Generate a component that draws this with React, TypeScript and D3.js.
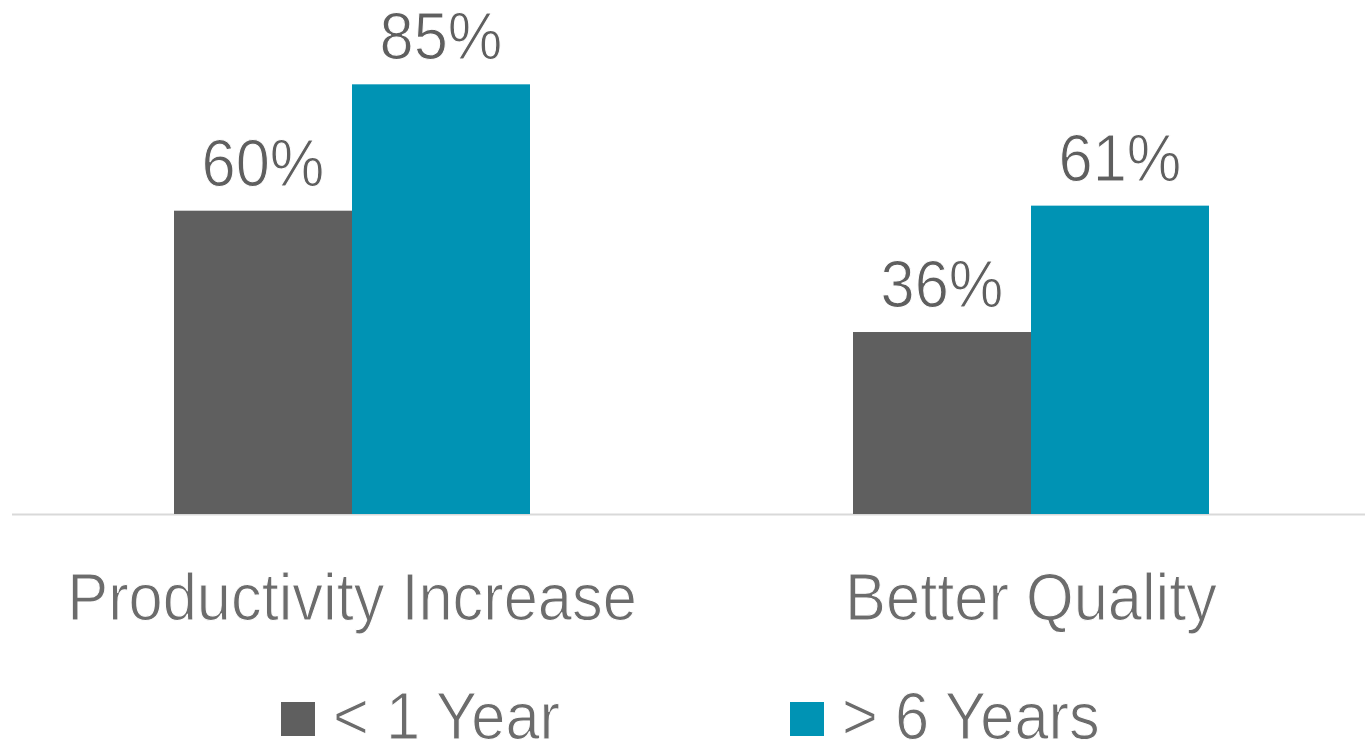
import React from "react";
import * as d3 from "d3";

const categories = ["Productivity Increase", "Better Quality"];
const seriesNames = ["< 1 Year", "> 6 Years"];
const lessThanOneYear = [60, 36];
const moreThanSixYears = [85, 61];
const seriesColors = ["#5f5f5f", "#0093b4"];

const W = 1365;
const H = 745;
const baseline = 514;
const FONT = "'Liberation Sans', Arial, sans-serif";
const SX = 0.93;

export default function App() {
  const series = [lessThanOneYear, moreThanSixYears];
  const x0 = d3
    .scaleBand<string>()
    .domain(categories)
    .range([12.5, 1370.5])
    .paddingInner(0.4757)
    .paddingOuter(0.4757 / 2);
  const x1 = d3
    .scaleBand<string>()
    .domain(seriesNames)
    .range([0, x0.bandwidth()])
    .padding(0);
  const y = d3.scaleLinear().domain([0, 100]).range([baseline, 8.5]);

  const textProps = (cx: number, cy: number, fill: string) => ({
    transform: `translate(${cx},${cy}) scale(${SX},1)`,
    textAnchor: "middle" as const,
    fontFamily: FONT,
    fontSize: 66,
    fill,
    stroke: "#ffffff",
    strokeWidth: 1.1,
  });

  return (
    <svg
      width={W}
      height={H}
      style={{ position: "absolute", left: 0, top: 0, display: "block", background: "#fff" }}
    >
      <line x1={12} x2={1365} y1={baseline + 0.5} y2={baseline + 0.5} stroke="#d9d9d9" strokeWidth={2} />
      {categories.map((cat, ci) => (
        <g key={cat}>
          {series.map((vals, si) => {
            const bx = (x0(cat) ?? 0) + (x1(seriesNames[si]) ?? 0);
            const bw = x1.bandwidth();
            const top = y(vals[ci]);
            return (
              <g key={si}>
                <rect x={bx} y={top} width={bw} height={baseline - top} fill={seriesColors[si]} />
                <text {...textProps(bx + bw / 2, top - 25, "#5f5f5f")}>{`${vals[ci]}%`}</text>
              </g>
            );
          })}
          <text {...textProps((x0(cat) ?? 0) + x0.bandwidth() / 2, 620, "#6c6c6c")}>{cat}</text>
        </g>
      ))}
      {seriesNames.map((name, i) => {
        const lx = 281 + i * 509;
        return (
          <g key={name}>
            <rect x={lx} y={702} width={34} height={34} fill={seriesColors[i]} />
            <text
              transform={`translate(${lx + 52},739) scale(${SX},1)`}
              fontFamily={FONT}
              fontSize={66}
              fill="#6c6c6c"
              stroke="#ffffff"
              strokeWidth={1.1}
            >
              {name}
            </text>
          </g>
        );
      })}
    </svg>
  );
}
